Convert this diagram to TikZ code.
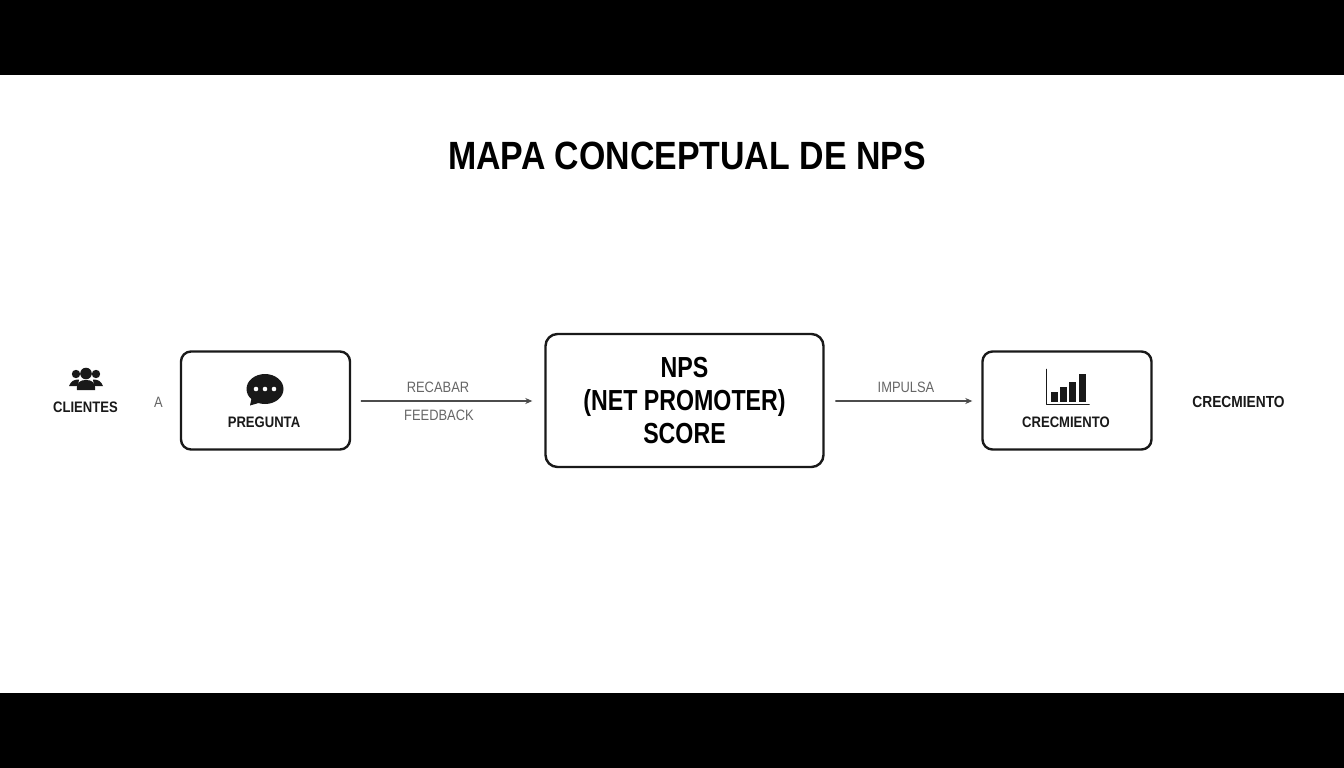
\documentclass[tikz,border=0pt]{standalone}
\usepackage{fontspec}
\setmainfont{Liberation Sans}[FakeStretch=0.86]
\newfontfamily\npsfont{Liberation Sans}[FakeStretch=0.8]
\usetikzlibrary{positioning,arrows.meta}
\tikzset{
	boxnode/.style={draw=black!90, line width=2.4pt, rounded corners=10pt, fill=white, inner sep=0pt},
	capnode/.style={font=\bfseries\fontsize{15.2}{18}\selectfont, text=black!90, inner sep=0pt},
	linknode/.style={font=\fontsize{15}{18}\selectfont, text=black!60, inner sep=0pt},
	linkarrow/.style={draw=black!70, line width=1.2pt, -{Stealth[length=7pt,width=6pt]}},
}
\begin{document}
\begin{tikzpicture}[x=1pt,y=-1pt,line join=round, line cap=round]
	\useasboundingbox (0,0) rectangle (1344,768);
	% Fondo
	\fill[black] (0,0) rectangle (1344,768);
	\fill[white] (0,75) rectangle (1344,693);
	\node[font=\bfseries\fontsize{39.4}{44}\selectfont, inner sep=0pt] (titulo) at (687,156) {MAPA CONCEPTUAL DE NPS};
	% Cajas
	\node[boxnode, minimum width=278pt, minimum height=133pt, rounded corners=12pt,
		font=\npsfont\bfseries\fontsize{29}{33}\selectfont, align=center] (nps) at (684.5,400.5) {NPS\\(NET PROMOTER)\\SCORE};
	\node[boxnode, minimum width=169pt, minimum height=98pt] (pregunta) at (265.5,400.5) {};
	\node[boxnode, minimum width=169pt, minimum height=98pt] (crecimiento) at (1067,400.5) {};
	\node[capnode] (preguntatxt) at (264,422.5) {PREGUNTA};
	\node[capnode] (crecimientotxt) at (1066,422.5) {CRECMIENTO};
	% Textos sueltos
	\node[capnode] (clientes) at (85.5,407.5) {CLIENTES};
	\node[linknode] (a) at (158.5,402) {A};
	\node[capnode, font=\bfseries\fontsize{16}{18}\selectfont] (crecfin) at (1238.5,402) {CRECMIENTO};
	% Flechas
	\draw[linkarrow, shorten <=10pt, shorten >=12pt] ([yshift=-.5pt]pregunta.east) -- ([yshift=-.5pt]nps.west);
	\draw[linkarrow, shorten <=11pt, shorten >=9pt] ([yshift=-.5pt]nps.east) -- ([yshift=-.5pt]crecimiento.west);
	\node[linknode] (recabar) at (438,387.5) {RECABAR};
	\node[linknode] (feedback) at (439,415.5) {FEEDBACK};
	\node[linknode] (impulsa) at (906,387.5) {IMPULSA};
	% Icono personas
	\fill[black!90] (76,374) circle (4.2pt) (96,374) circle (4.2pt) (86,373.5) circle (5.8pt);
	\fill[black!90] (69,386) .. controls (71,381) and (74,379.5) .. (79,379.5) -- (78,386) -- cycle;
	\fill[black!90] (103,386) .. controls (101,381) and (98,379.5) .. (93,379.5) -- (94,386) -- cycle;
	\fill[black!90] (77,390) .. controls (76,382) and (81,380) .. (86,380) .. controls (91,380) and (96,382) .. (95,390) -- cycle;
	% Icono bocadillo
	\fill[black!90] (265,389) ellipse (18.5pt and 15pt);
	\fill[black!90] (252,396) -- (250,405.5) -- (262,402) -- cycle;
	\fill[white] (256,389) circle (2.3pt) (265,389) circle (2.3pt) (274,389) circle (2.3pt);
	% Icono barras
	\draw[black!90, line width=1.8pt] (1046.5,369.5) -- (1046.5,404.5) -- (1089,404.5);
	\fill[black!90] (1050.5,392) rectangle (1057.5,401.5);
	\fill[black!90] (1059.5,386.5) rectangle (1066.5,401.5);
	\fill[black!90] (1069,382) rectangle (1076,401.5);
	\fill[black!90] (1078.5,374) rectangle (1085.5,401.5);
\end{tikzpicture}
\end{document}
